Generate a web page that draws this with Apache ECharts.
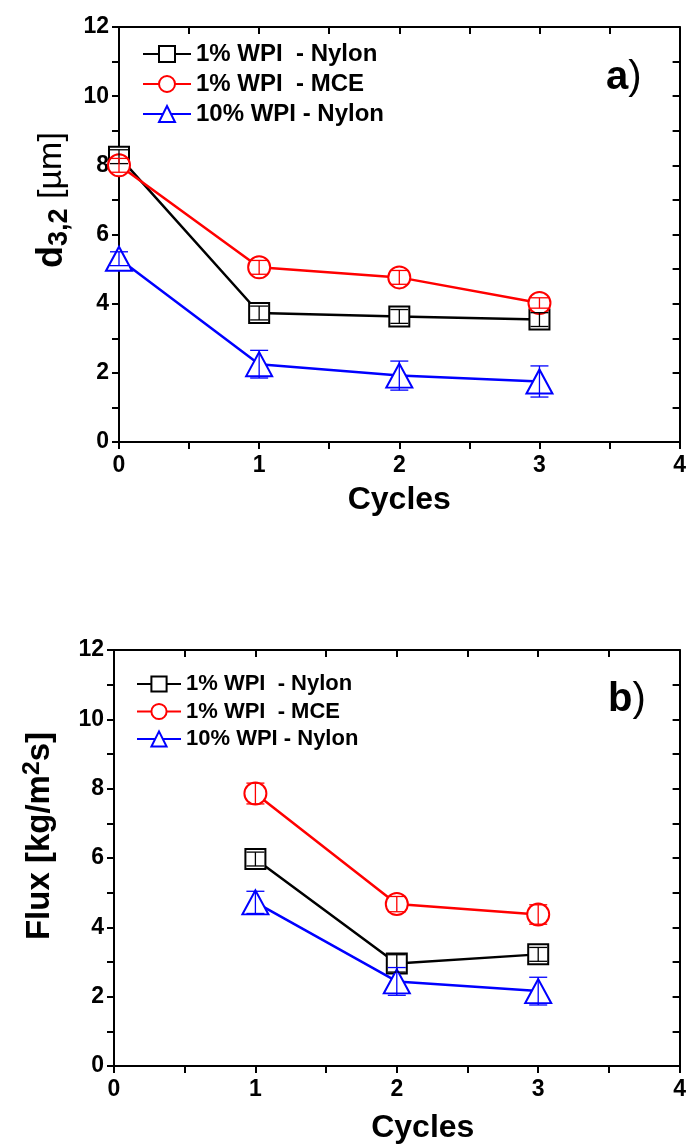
<!DOCTYPE html>
<html>
<head>
<meta charset="utf-8">
<script src="https://cdn.jsdelivr.net/npm/echarts@6/dist/echarts.min.js"></script>
<style>
  html, body { margin: 0; padding: 0; background: #fff; }
  #main { width: 689px; height: 1148px; }
</style>
</head>
<body>
<div id="main"></div>
<script>
// data
const seriesNames = ["1% WPI  - Nylon", "1% WPI  - MCE", "10% WPI - Nylon"];
const cyclesA = [0, 1, 2, 3];
const d32Nylon1 = [8.25, 3.73, 3.63, 3.54];
const d32Mce1 = [8.0, 5.05, 4.76, 4.02];
const d32Nylon10 = [5.3, 2.25, 1.92, 1.75];
const d32Nylon1Err = [0.2, 0.2, 0.2, 0.2];
const d32Mce1Err = [0.2, 0.2, 0.2, 0.15];
const d32Nylon10Err = [0.2, 0.4, 0.42, 0.45];
const cyclesB = [1, 2, 3];
const fluxNylon1 = [5.97, 2.96, 3.22];
const fluxMce1 = [7.86, 4.67, 4.37];
const fluxNylon10 = [4.72, 2.44, 2.16];
const fluxNylon1Err = [0.2, 0.25, 0.2];
const fluxMce1Err = [0.3, 0.22, 0.28];
const fluxNylon10Err = [0.32, 0.4, 0.4];
const xTicks = [0, 1, 2, 3, 4];
const yTicks = [0, 2, 4, 6, 8, 10, 12];

const colors = ["#000000", "#ff0000", "#0000ff"];
const symbols = ["rect", "circle", "triangle"];
const symbolSizes = [20, 22, [26, 24]];
const FONT = "'Liberation Sans', Arial, sans-serif";

const chart = echarts.init(document.getElementById("main"));

function pairs(xs, ys) {
  return xs.map((x, i) => [x, ys[i]]);
}

// 主坐标轴 + 对侧的框线
function axesFor(gridIndex, nameGap, namePad) {
  const common = {
    gridIndex: gridIndex,
    min: 0,
    splitLine: { show: false },
    axisLine: { show: true, onZero: false, lineStyle: { color: "#000", width: 2 } },
  };
  const tick = (inside) => ({ show: true, length: 7, inside: inside, lineStyle: { width: 2 } });
  const minor = { show: true, splitNumber: 2, length: 7, lineStyle: { color: "#000", width: 2 } };
  const x = Object.assign({}, common, {
    type: "value", max: 4, interval: 1,
    axisTick: tick(false), minorTick: minor,
    axisLabel: { color: "#000", fontFamily: FONT, fontWeight: "bold", fontSize: 23, margin: 12,
      formatter: (v) => (xTicks.indexOf(v) >= 0 ? v : "") },
    name: "Cycles", nameLocation: "middle", nameGap: nameGap,
    nameTextStyle: { color: "#000", fontFamily: FONT, fontWeight: "bold", fontSize: 32,
      padding: namePad },
  });
  const xTop = Object.assign({}, common, {
    type: "value", max: 4, interval: 1, position: "top",
    axisTick: tick(true), minorTick: minor,
    axisLabel: { show: false },
  });
  const y = Object.assign({}, common, {
    type: "value", max: 12, interval: 2,
    axisTick: tick(false), minorTick: minor,
    axisLabel: { color: "#000", fontFamily: FONT, fontWeight: "bold", fontSize: 23, margin: 10,
      formatter: (v) => (yTicks.indexOf(v) >= 0 ? v : "") },
  });
  const yRight = Object.assign({}, common, {
    type: "value", max: 12, interval: 2, position: "right",
    axisTick: tick(true), minorTick: minor,
    axisLabel: { show: false },
  });
  return { x: [x, xTop], y: [y, yRight] };
}

const axA = axesFor(0, 42, [0, 0, 0, 0]);
const axB = axesFor(1, 46, [0, 0, 0, 52]);

function lineSeries(i, xIdx, yIdx, data) {
  return {
    name: seriesNames[i],
    type: "line",
    xAxisIndex: xIdx,
    yAxisIndex: yIdx,
    data: data,
    symbol: symbols[i],
    symbolSize: symbolSizes[i],
    showAllSymbol: true,
    itemStyle: { color: "#fff", borderColor: colors[i], borderWidth: 2 },
    lineStyle: { color: colors[i], width: 2.5 },
    z: 3 + i,
  };
}

// 误差棒
function errSeries(i, xIdx, yIdx, xs, ys, errs) {
  return {
    type: "custom",
    xAxisIndex: xIdx,
    yAxisIndex: yIdx,
    data: xs.map((x, k) => [x, ys[k], errs[k]]),
    z: 10,
    silent: true,
    renderItem: function (params, api) {
      const x = api.value(0), y = api.value(1), e = api.value(2);
      const hi = api.coord([x, y + e]);
      const lo = api.coord([x, y - e]);
      const w = 9;
      const st = { stroke: colors[i], lineWidth: 1.3 };
      return {
        type: "group",
        children: [
          { type: "line", shape: { x1: hi[0], y1: hi[1], x2: lo[0], y2: lo[1] }, style: st },
          { type: "line", shape: { x1: hi[0] - w, y1: hi[1], x2: hi[0] + w, y2: hi[1] }, style: st },
          { type: "line", shape: { x1: lo[0] - w, y1: lo[1], x2: lo[0] + w, y2: lo[1] }, style: st },
        ],
      };
    },
  };
}

const legendText = (size) => ({ color: "#000", fontFamily: FONT, fontWeight: "bold", fontSize: size, lineHeight: 20 });

function titleRich(size) {
  return {
    b: { fontFamily: FONT, fontWeight: "bold", fontSize: size, fill: "#000" },
    n: { fontFamily: FONT, fontWeight: "normal", fontSize: size - 2, fill: "#000" },
    sub: { fontFamily: FONT, fontWeight: "bold", fontSize: size * 0.75, fill: "#000", padding: [16, 0, 0, 0] },
    sup: { fontFamily: FONT, fontWeight: "bold", fontSize: size * 0.75, fill: "#000", padding: [0, 0, 15, 0] },
  };
}

const tagRich = {
  b: { fontFamily: FONT, fontWeight: "bold", fontSize: 40, fill: "#000" },
  n: { fontFamily: FONT, fontWeight: "normal", fontSize: 40, fill: "#000" },
};

chart.setOption({
  backgroundColor: "#fff",
  animation: false,
  grid: [
    { left: 119, top: 27, width: 567, height: 415 },
    { left: 114, top: 650, width: 567, height: 416 },
  ],
  xAxis: [axA.x[0], axA.x[1], axB.x[0], axB.x[1]],
  yAxis: [axA.y[0], axA.y[1], axB.y[0], axB.y[1]],
  legend: [
    { data: seriesNames, orient: "vertical", left: 137, top: 37, itemGap: 6,
      itemWidth: 48, itemHeight: 20, textStyle: legendText(24) },
    { data: seriesNames, orient: "vertical", left: 131, top: 668, itemGap: 5.5,
      itemWidth: 44, itemHeight: 19, textStyle: legendText(22) },
  ],
  graphic: [
    { type: "text", x: 52, y: 200, rotation: Math.PI / 2,
      style: { text: "{b|d}{sub|3,2}{n| [µm]}", rich: titleRich(36), align: "center", verticalAlign: "middle" } },
    { type: "text", x: 40, y: 836, rotation: Math.PI / 2,
      style: { text: "{b|Flux [kg/m}{sup|2}{b|s]}", rich: titleRich(33), align: "center", verticalAlign: "middle" } },
    { type: "text", left: 606, top: 58, style: { text: "{b|a}{n|)}", rich: tagRich } },
    { type: "text", left: 608, top: 680, style: { text: "{b|b}{n|)}", rich: tagRich } },
  ],
  series: [
    lineSeries(0, 0, 0, pairs(cyclesA, d32Nylon1)),
    lineSeries(1, 0, 0, pairs(cyclesA, d32Mce1)),
    lineSeries(2, 0, 0, pairs(cyclesA, d32Nylon10)),
    lineSeries(0, 2, 2, pairs(cyclesB, fluxNylon1)),
    lineSeries(1, 2, 2, pairs(cyclesB, fluxMce1)),
    lineSeries(2, 2, 2, pairs(cyclesB, fluxNylon10)),
    errSeries(0, 0, 0, cyclesA, d32Nylon1, d32Nylon1Err),
    errSeries(1, 0, 0, cyclesA, d32Mce1, d32Mce1Err),
    errSeries(2, 0, 0, cyclesA, d32Nylon10, d32Nylon10Err),
    errSeries(0, 2, 2, cyclesB, fluxNylon1, fluxNylon1Err),
    errSeries(1, 2, 2, cyclesB, fluxMce1, fluxMce1Err),
    errSeries(2, 2, 2, cyclesB, fluxNylon10, fluxNylon10Err),
  ],
});
</script>
</body>
</html>
